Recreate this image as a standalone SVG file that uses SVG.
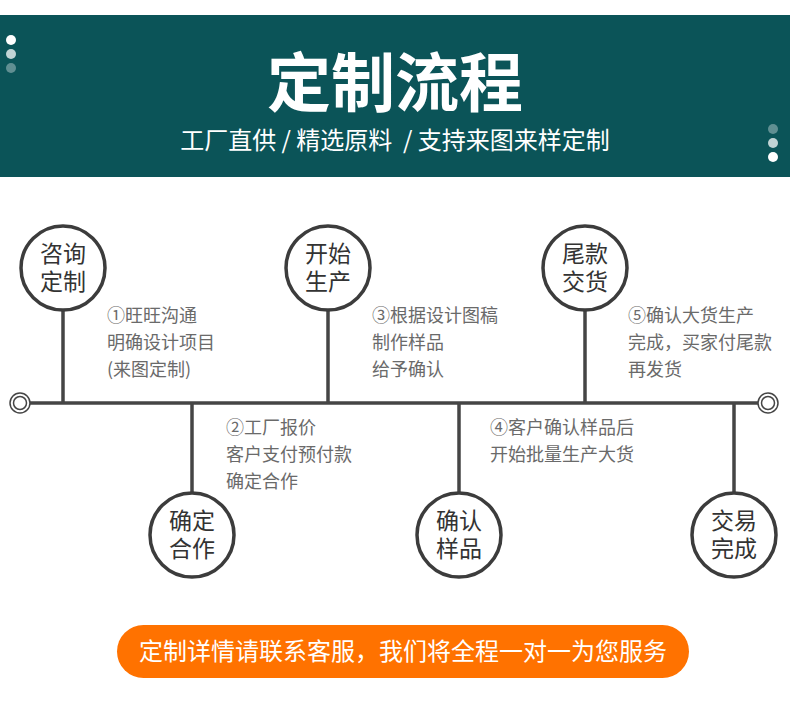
<svg xmlns="http://www.w3.org/2000/svg" width="790" height="720" viewBox="0 0 790 720">
<style>
.f{font-family:"Noto Sans CJK SC","Noto Sans",sans-serif}
.node circle{fill:#fff;stroke:#3c3c3c;stroke-width:3.5}
.node text{font-size:23px;fill:#333;text-anchor:middle}
.desc{font-size:18px;fill:#6a6a6a}
.conn line{stroke:#454545;stroke-width:3.5}
</style>
<rect width="790" height="720" fill="#fff"/>
<g id="header">
<rect x="0" y="15" width="790" height="162" fill="#0b5458"/>
<circle cx="11" cy="40" r="5" fill="#fff"/>
<circle cx="11" cy="54" r="5" fill="#fff" opacity="0.75"/>
<circle cx="11" cy="68" r="5" fill="#fff" opacity="0.35"/>
<circle cx="773" cy="129" r="5" fill="#fff" opacity="0.35"/>
<circle cx="773" cy="143" r="5" fill="#fff" opacity="0.75"/>
<circle cx="773" cy="157" r="5" fill="#fff"/>
<text class="f" x="395" y="106" font-size="64" font-weight="bold" fill="#fff" text-anchor="middle">定制流程</text>
<text class="f" x="395" y="149" font-size="24" fill="#fff" text-anchor="middle" xml:space="preserve">工厂直供 / 精选原料  / 支持来图来样定制</text>
</g>
<g id="connectors" class="conn">
<line x1="28" y1="403" x2="760" y2="403" stroke-width="6"/>
<line x1="63" y1="310" x2="63" y2="403"/>
<line x1="328" y1="310" x2="328" y2="403"/>
<line x1="585" y1="310" x2="585" y2="403"/>
<line x1="192" y1="403" x2="192" y2="493"/>
<line x1="459" y1="403" x2="459" y2="493"/>
<line x1="734" y1="403" x2="734" y2="493"/>
</g>
<g id="end-left">
<circle cx="20" cy="403" r="10" fill="#fff" stroke="#454545" stroke-width="1.5"/>
<circle cx="20" cy="403" r="6.5" fill="#fff" stroke="#454545" stroke-width="1.5"/>
</g>
<g id="end-right">
<circle cx="768" cy="403" r="10" fill="#fff" stroke="#454545" stroke-width="1.5"/>
<circle cx="768" cy="403" r="6.5" fill="#fff" stroke="#454545" stroke-width="1.5"/>
</g>
<g id="node1" class="node f">
<circle cx="63" cy="268" r="42"/>
<text x="63" y="262">咨询</text><text x="63" y="290">定制</text>
</g>
<g id="node3" class="node f">
<circle cx="328" cy="268" r="42"/>
<text x="328" y="262">开始</text><text x="328" y="290">生产</text>
</g>
<g id="node5" class="node f">
<circle cx="585" cy="268" r="42"/>
<text x="585" y="262">尾款</text><text x="585" y="290">交货</text>
</g>
<g id="node2" class="node f">
<circle cx="192" cy="535" r="42"/>
<text x="192" y="529">确定</text><text x="192" y="557">合作</text>
</g>
<g id="node4" class="node f">
<circle cx="459" cy="535" r="42"/>
<text x="459" y="529">确认</text><text x="459" y="557">样品</text>
</g>
<g id="node6" class="node f">
<circle cx="734" cy="535" r="42"/>
<text x="734" y="529">交易</text><text x="734" y="557">完成</text>
</g>
<g id="desc1" class="f desc">
<text x="107" y="322">①旺旺沟通</text><text x="107" y="349">明确设计项目</text><text x="107" y="376">(来图定制)</text>
</g>
<g id="desc3" class="f desc">
<text x="372" y="322">③根据设计图稿</text><text x="372" y="349">制作样品</text><text x="372" y="376">给予确认</text>
</g>
<g id="desc5" class="f desc">
<text x="628" y="322">⑤确认大货生产</text><text x="628" y="349">完成，买家付尾款</text><text x="628" y="376">再发货</text>
</g>
<g id="desc2" class="f desc">
<text x="226" y="434">②工厂报价</text><text x="226" y="461">客户支付预付款</text><text x="226" y="488">确定合作</text>
</g>
<g id="desc4" class="f desc">
<text x="490" y="434">④客户确认样品后</text><text x="490" y="461">开始批量生产大货</text>
</g>
<g id="footer">
<rect x="117" y="625" width="572" height="53" rx="26.5" fill="#ff7200"/>
<text class="f" x="403" y="660" font-size="24" fill="#fff" text-anchor="middle">定制详情请联系客服，我们将全程一对一为您服务</text>
</g>
</svg>
